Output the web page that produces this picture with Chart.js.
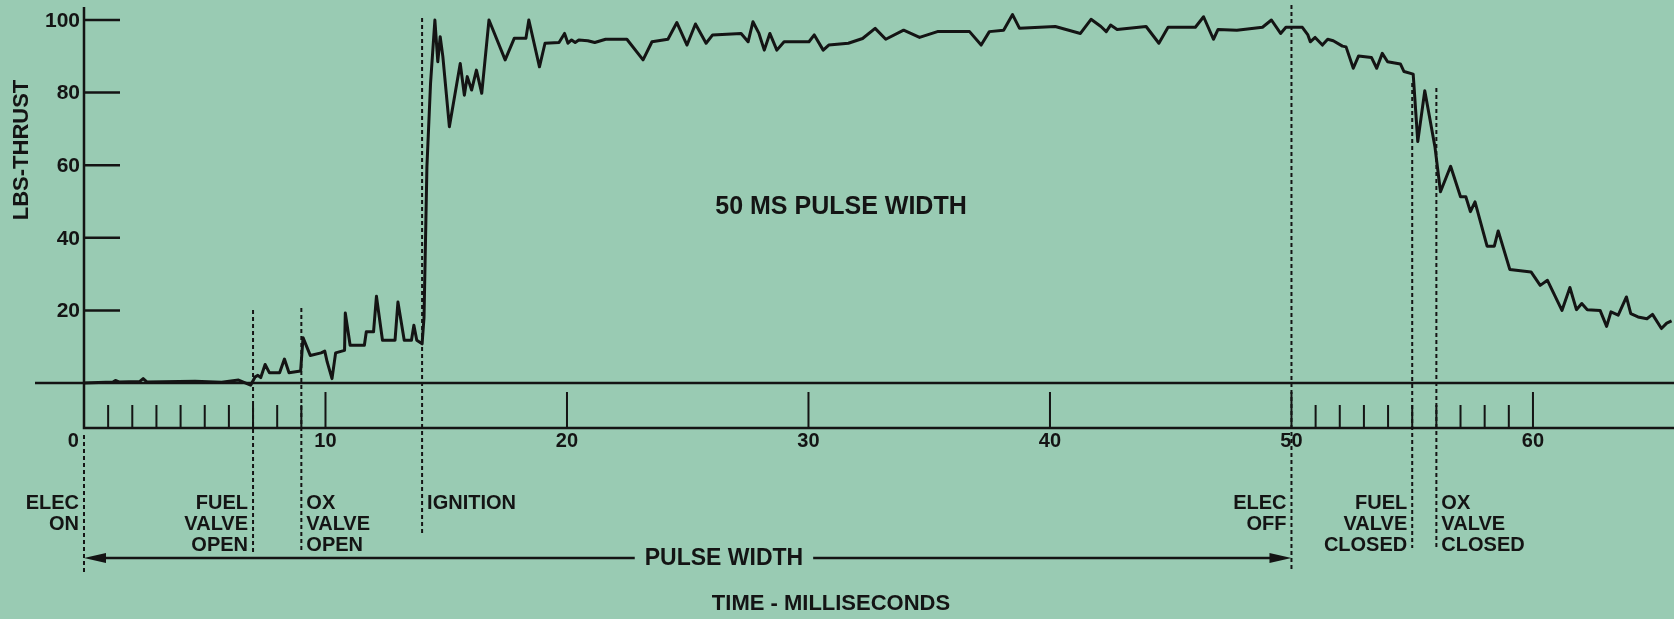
<!DOCTYPE html>
<html>
<head>
<meta charset="utf-8">
<title>Thrust trace - 50 ms pulse</title>
<script src="https://cdn.jsdelivr.net/npm/chart.js@4/dist/chart.umd.min.js"></script>
<style>
  html, body { margin: 0; padding: 0; background: #99cbb3; overflow: hidden; }
  canvas { display: block; }
</style>
</head>
<body>
<canvas id="thrust" width="1674" height="619"></canvas>
<script>
// thrust trace, time in ms / thrust in lbs
const timeMs = [
  0, 1.2, 1.3, 1.45, 2.3, 2.45, 2.6, 4.6, 5.7, 6.4, 6.9, 7.09, 7.2, 7.32, 7.5, 7.68, 8.1, 8.3, 8.49, 8.97,
  9.07, 9.37, 9.82, 9.97, 10.07, 10.27, 10.42, 10.79, 10.82, 11.02, 11.61, 11.69, 11.99, 12.11, 12.36, 12.88, 13.0, 13.26, 13.56, 13.66,
  13.78, 14.0, 14.08, 14.2, 14.35, 14.53, 14.65, 14.75, 14.86, 15.13, 15.58, 15.75, 15.87, 16.05, 16.25, 16.47, 16.77, 17.44, 17.82, 18.3,
  18.42, 18.86, 19.09, 19.67, 19.9, 20.04, 20.19, 20.34, 20.49, 20.86, 21.15, 21.6, 22.48, 23.15, 23.52, 24.18, 24.55, 24.97, 25.32, 25.76,
  26.03, 27.21, 27.5, 27.7, 27.95, 28.17, 28.4, 28.69, 28.99, 30.02, 30.24, 30.61, 30.84, 31.65, 32.24, 32.76, 33.2, 33.94, 34.6, 35.34,
  36.67, 37.15, 37.49, 38.08, 38.45, 38.74, 40.22, 41.26, 41.7, 42.11, 42.33, 42.51, 42.78, 43.98, 44.51, 44.89, 46.02, 46.36, 46.77, 46.96,
  47.74, 48.8, 49.17, 49.55, 49.77, 50.45, 50.68, 50.78, 50.98, 51.28, 51.5, 51.73, 52.11, 52.26, 52.56, 52.78, 53.31, 53.53, 53.76, 53.98,
  54.51, 54.66, 55.04, 55.23, 55.52, 55.94, 56.17, 56.59, 57.0, 57.22, 57.41, 57.6, 58.1, 58.4, 58.56, 59.04, 59.92, 60.3, 60.6, 61.2,
  61.53, 61.8, 62.02, 62.25, 62.78, 63.05, 63.23, 63.53, 63.87, 64.05, 64.35, 64.72, 64.95, 65.32, 65.54, 65.74
];
const thrustLbs = [
  0, 0.3, 0.7, 0.3, 0.4, 1.2, 0.3, 0.5, 0.2, 0.8, -0.6, 1.7, 2.1, 1.5, 5.1, 2.8, 2.8, 6.6, 2.8, 3.3,
  12.5, 7.6, 8.3, 8.8, 5.8, 1.2, 8.3, 9.0, 19.3, 10.4, 10.4, 14.1, 14.1, 23.9, 11.8, 11.8, 22.3, 11.8, 11.8, 15.9,
  11.8, 10.8, 18, 59.6, 82.5, 100, 88.5, 95.4, 89.9, 70.6, 88, 79.3, 84.4, 80.7, 86.2, 79.8, 100, 89, 95, 95,
  100, 87.1, 93.6, 93.8, 96.3, 93.6, 94.5, 93.8, 94.5, 94.3, 93.8, 94.7, 94.7, 89.0, 94.0, 94.7, 99.3, 93.1, 98.9, 93.6,
  95.9, 96.3, 94.0, 99.5, 96.3, 91.7, 96.3, 91.7, 94.0, 94.0, 95.9, 91.7, 93.1, 93.6, 94.9, 97.7, 94.7, 97.2, 95.2, 96.8,
  96.8, 93.1, 96.8, 97.2, 101.5, 97.7, 98.2, 96.3, 100.2, 98.2, 96.8, 98.6, 97.4, 98.2, 93.6, 98.0, 98.0, 100.9, 94.7, 97.4,
  97.2, 98, 100, 96.3, 98, 98, 95.9, 94, 95.2, 93.1, 94.7, 94.3, 92.8, 92.6, 86.7, 90.1, 89.7, 86.7, 90.8, 88.5,
  87.9, 85.8, 85.1, 66.5, 80.5, 65.1, 52.7, 59.7, 51.3, 51.3, 47.2, 49.9, 37.7, 37.7, 41.9, 31.3, 30.6, 26.9, 28.3, 20.0,
  26.3, 20.2, 21.9, 20.2, 20.0, 15.6, 19.6, 18.7, 23.7, 19.1, 18.2, 17.7, 18.9, 15.0, 16.5, 17.1
];

const yTicks = [20, 40, 60, 80, 100];
const xTicks = [0, 10, 20, 30, 40, 50, 60];
const xMinorTicks = [1, 2, 3, 4, 5, 6, 7, 8, 9, 51, 52, 53, 54, 55, 56, 57, 58, 59];

const eventTimes = [0, 7, 9, 14, 50, 55, 56];
const eventLabels = [
  ["ELEC", "ON"],
  ["FUEL", "VALVE", "OPEN"],
  ["OX", "VALVE", "OPEN"],
  ["IGNITION"],
  ["ELEC", "OFF"],
  ["FUEL", "VALVE", "CLOSED"],
  ["OX", "VALVE", "CLOSED"]
];

const pulseStart = 0;
const pulseEnd = 50;

const INK = "#141414";
const FONT = "'Liberation Sans', Arial, sans-serif";

// where the event markers run and which side their text sits on
const markerStyle = [
  { top: 435, bottom: 575, side: "left" },
  { top: 310, bottom: 552, side: "left" },
  { top: 308, bottom: 552, side: "right" },
  { top: 18,  bottom: 536, side: "right" },
  { top: 5,   bottom: 571, side: "left" },
  { top: 83,  bottom: 548, side: "left" },
  { top: 88,  bottom: 548, side: "right" }
];

const traceFrame = {
  id: "traceFrame",
  beforeDraw(chart) {
    const ctx = chart.ctx;
    ctx.save();
    ctx.fillStyle = "#99cbb3";
    ctx.fillRect(0, 0, chart.width, chart.height);
    ctx.restore();
  },
  beforeDatasetsDraw(chart) {
    const { ctx, scales: { x, y } } = chart;
    const x0 = x.getPixelForValue(0);
    const y0 = y.getPixelForValue(0);
    const lowAxis = y0 + 45;

    ctx.save();
    ctx.strokeStyle = INK;
    ctx.lineCap = "butt";

    // zero line, vertical thrust axis and the time axis below
    ctx.lineWidth = 2.5;
    ctx.beginPath();
    ctx.moveTo(35, y0);
    ctx.lineTo(chart.width, y0);
    ctx.moveTo(x0, y.getPixelForValue(100) - 13);
    ctx.lineTo(x0, lowAxis);
    ctx.lineTo(chart.width, lowAxis);
    ctx.stroke();

    // thrust ticks point into the plot
    ctx.beginPath();
    yTicks.forEach(v => {
      const py = y.getPixelForValue(v);
      ctx.moveTo(x0, py);
      ctx.lineTo(x0 + 36, py);
    });
    ctx.stroke();

    // time ticks stand up from the lower axis
    ctx.lineWidth = 2;
    ctx.beginPath();
    xTicks.slice(1).forEach(t => {
      const px = x.getPixelForValue(t);
      ctx.moveTo(px, lowAxis);
      ctx.lineTo(px, lowAxis - 36);
    });
    xMinorTicks.forEach(t => {
      const px = x.getPixelForValue(t);
      ctx.moveTo(px, lowAxis);
      ctx.lineTo(px, lowAxis - 23);
    });
    ctx.stroke();

    // event markers
    ctx.lineWidth = 2;
    ctx.setLineDash([4, 3]);
    eventTimes.forEach((t, i) => {
      const px = x.getPixelForValue(t);
      ctx.beginPath();
      ctx.moveTo(px, markerStyle[i].top);
      ctx.lineTo(px, markerStyle[i].bottom);
      ctx.stroke();
    });
    ctx.restore();
  },
  afterDatasetsDraw(chart) {
    const { ctx, scales: { x, y } } = chart;
    const x0 = x.getPixelForValue(0);
    const y0 = y.getPixelForValue(0);
    const lowAxis = y0 + 45;

    ctx.save();
    ctx.fillStyle = INK;
    ctx.strokeStyle = INK;
    ctx.textBaseline = "middle";

    // thrust tick labels
    ctx.font = "bold 21px " + FONT;
    ctx.textAlign = "right";
    yTicks.forEach(v => ctx.fillText(String(v), x0 - 4, y.getPixelForValue(v) + 1));

    // time tick labels
    ctx.font = "bold 20px " + FONT;
    xTicks.forEach(t => {
      if (t === 0) {
        ctx.textAlign = "right";
        ctx.fillText("0", x0 - 5, lowAxis + 13);
      } else {
        ctx.textAlign = "center";
        ctx.fillText(String(t), x.getPixelForValue(t), lowAxis + 13);
      }
    });

    // axis title, rotated
    ctx.save();
    ctx.translate(22, 150);
    ctx.rotate(-Math.PI / 2);
    ctx.textAlign = "center";
    ctx.font = "bold 22px " + FONT;
    ctx.fillText("LBS-THRUST", 0, 0);
    ctx.restore();

    // event captions
    ctx.font = "bold 20px " + FONT;
    eventTimes.forEach((t, i) => {
      const px = x.getPixelForValue(t);
      const left = markerStyle[i].side === "left";
      ctx.textAlign = left ? "right" : "left";
      eventLabels[i].forEach((line, k) => {
        ctx.fillText(line, left ? px - 5 : px + 5, 503 + k * 21);
      });
    });

    // pulse width dimension line
    const pa = x.getPixelForValue(pulseStart);
    const pb = x.getPixelForValue(pulseEnd);
    const arrowY = 558;
    const labelX = x.getPixelForValue(26.5);
    ctx.font = "bold 23px " + FONT;
    ctx.textAlign = "center";
    const half = ctx.measureText("PULSE WIDTH").width / 2 + 10;
    ctx.fillText("PULSE WIDTH", labelX, arrowY + 1);
    ctx.lineWidth = 2.5;
    ctx.beginPath();
    ctx.moveTo(pa + 10, arrowY);
    ctx.lineTo(labelX - half, arrowY);
    ctx.moveTo(labelX + half, arrowY);
    ctx.lineTo(pb - 10, arrowY);
    ctx.stroke();
    ctx.beginPath();
    ctx.moveTo(pa, arrowY);
    ctx.lineTo(pa + 22, arrowY - 5);
    ctx.lineTo(pa + 22, arrowY + 5);
    ctx.closePath();
    ctx.moveTo(pb, arrowY);
    ctx.lineTo(pb - 22, arrowY - 5);
    ctx.lineTo(pb - 22, arrowY + 5);
    ctx.closePath();
    ctx.fill();

    // time axis title
    ctx.font = "bold 22px " + FONT;
    ctx.fillText("TIME - MILLISECONDS", 831, 604);

    // chart caption
    ctx.font = "bold 25px " + FONT;
    ctx.fillText("50 MS PULSE WIDTH", 841, 207);
    ctx.restore();
  }
};

new Chart(document.getElementById("thrust"), {
  type: "line",
  data: {
    datasets: [{
      label: "Thrust",
      data: timeMs.map((t, i) => ({ x: t, y: thrustLbs[i] })),
      borderColor: INK,
      borderWidth: 3,
      borderJoinStyle: "round",
      pointRadius: 0,
      tension: 0,
      fill: false
    }]
  },
  options: {
    responsive: false,
    animation: false,
    devicePixelRatio: 1,
    layout: { padding: 0 },
    plugins: {
      legend: { display: false },
      tooltip: { enabled: false }
    },
    scales: {
      x: { type: "linear", min: -3.478, max: 65.84, display: false },
      y: { type: "linear", min: -65.01, max: 105.51, display: false }
    }
  },
  plugins: [traceFrame]
});
</script>
</body>
</html>
